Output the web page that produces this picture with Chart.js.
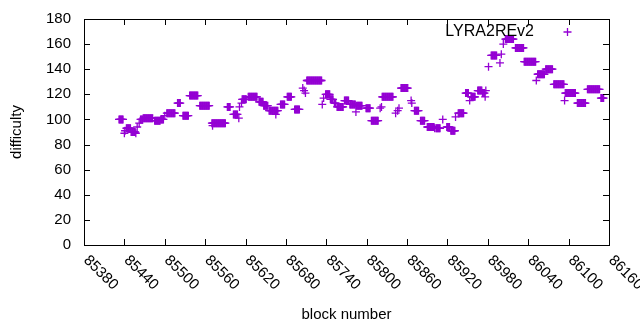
<!DOCTYPE html>
<html>
<head>
<meta charset="utf-8">
<script src="https://cdn.jsdelivr.net/npm/chart.js@4"></script>
<style>
  body { margin: 0; background: #fff; }
</style>
</head>
<body>
<canvas id="diffChart" width="640" height="330"></canvas>
<script>
// runs of consecutive blocks sharing the same difficulty
const runStart = [85432, 85440, 85441, 85443, 85450, 85457, 85459, 85462, 85464, 85468, 85485, 85494, 85500, 85503, 85519, 85527, 85537, 85552, 85570, 85571, 85593, 85602, 85610, 85611, 85614, 85615, 85624, 85640, 85647, 85655, 85665, 85672, 85682, 85693, 85705, 85707, 85709, 85711, 85734, 85736, 85739, 85746, 85752, 85756, 85767, 85775, 85784, 85785, 85799, 85807, 85820, 85822, 85823, 85843, 85846, 85848, 85851, 85866, 85867, 85871, 85880, 85890, 85901, 85903, 85913, 85919, 85925, 85932, 85936, 85947, 85953, 85955, 85965, 85972, 85976, 85977, 85981, 85985, 85998, 86000, 86003, 86006, 86021, 86034, 86052, 86054, 86066, 86078, 86094, 86095, 86113, 86128, 86148];
const runEnd   = [85438, 85440, 85441, 85449, 85456, 85457, 85459, 85462, 85467, 85482, 85493, 85498, 85500, 85515, 85523, 85535, 85549, 85566, 85590, 85571, 85597, 85608, 85610, 85611, 85614, 85621, 85637, 85646, 85653, 85668, 85665, 85678, 85688, 85700, 85705, 85707, 85709, 85733, 85734, 85736, 85745, 85750, 85754, 85765, 85773, 85783, 85784, 85793, 85805, 85817, 85820, 85822, 85839, 85843, 85846, 85848, 85861, 85866, 85867, 85877, 85886, 85900, 85901, 85909, 85913, 85923, 85931, 85932, 85944, 85951, 85953, 85961, 85971, 85975, 85976, 85977, 85981, 85993, 85998, 86000, 86003, 86018, 86033, 86051, 86052, 86064, 86076, 86093, 86094, 86110, 86125, 86146, 86152];
const runValue = [100, 89, 91, 93, 90, 89, 94, 97, 100, 101, 99, 100, 103, 105, 113, 103, 119, 111, 97, 95, 110, 104, 101, 110, 113, 116, 118, 114, 111, 107, 104, 112, 118, 108, 125, 123, 121, 131, 112, 117, 120, 116, 113, 110, 115, 112, 106, 111, 109, 99, 109, 110, 118, 105, 107, 109, 125, 115, 113, 107, 99, 94, 93, 93, 100, 94, 91, 102, 105, 121, 115, 118, 123, 121, 118, 123, 142, 151, 145, 152, 160, 164, 157, 146, 131, 136, 140, 128, 115, 121, 113, 124, 117];

const xTicks = [85380, 85440, 85500, 85560, 85620, 85680, 85740, 85800, 85860, 85920, 85980, 86040, 86100, 86160];
const yTicks = [0, 20, 40, 60, 80, 100, 120, 140, 160, 180];

const seriesName = "LYRA2REv2";
const purple = "#9400d3";

const points = [];
runStart.forEach((s, i) => {
  for (let b = s; b <= runEnd[i]; b++) {
    points.push({ x: b, y: runValue[i] });
  }
});

// gnuplot style frame, mirrored ticks, labels and key
const framePlugin = {
  id: "frame",
  afterDraw(chart) {
    const ctx = chart.ctx;
    const a = chart.chartArea;
    const xs = chart.scales.x;
    const ys = chart.scales.y;
    ctx.save();
    ctx.strokeStyle = "#000";
    ctx.lineWidth = 1;
    ctx.strokeRect(a.left + 0.5, a.top + 0.5, a.right - a.left, a.bottom - a.top);

    ctx.beginPath();
    yTicks.forEach((v) => {
      const y = Math.round(ys.getPixelForValue(v)) + 0.5;
      ctx.moveTo(a.left, y); ctx.lineTo(a.left + 6, y);
      ctx.moveTo(a.right, y); ctx.lineTo(a.right - 6, y);
    });
    xTicks.forEach((v) => {
      const x = Math.round(xs.getPixelForValue(v)) + 0.5;
      ctx.moveTo(x, a.bottom); ctx.lineTo(x, a.bottom - 6);
      ctx.moveTo(x, a.top); ctx.lineTo(x, a.top + 6);
    });
    ctx.stroke();

    ctx.fillStyle = "#000";
    ctx.font = "15px 'Liberation Sans', Arial, sans-serif";
    ctx.textAlign = "right";
    ctx.textBaseline = "middle";
    yTicks.forEach((v) => {
      ctx.fillText(String(v), a.left - 13, ys.getPixelForValue(v));
    });

    ctx.textAlign = "left";
    xTicks.forEach((v) => {
      ctx.save();
      ctx.translate(xs.getPixelForValue(v) + 2, a.bottom + 13);
      ctx.rotate(Math.PI / 4);
      ctx.fillText(String(v), 0, 0);
      ctx.restore();
    });

    ctx.textAlign = "center";
    ctx.fillText("block number", (a.left + a.right) / 2, 315);
    ctx.save();
    ctx.translate(17, (a.top + a.bottom) / 2);
    ctx.rotate(-Math.PI / 2);
    ctx.fillText("difficulty", 0, 0);
    ctx.restore();

    // key
    ctx.textAlign = "right";
    ctx.font = "16px 'Liberation Sans', Arial, sans-serif";
    ctx.fillText(seriesName, 534, 32);
    ctx.strokeStyle = purple;
    ctx.lineWidth = 1.3;
    ctx.beginPath();
    ctx.moveTo(563.5, 32); ctx.lineTo(571.5, 32);
    ctx.moveTo(567.5, 28); ctx.lineTo(567.5, 36);
    ctx.stroke();
    ctx.restore();
  },
};

const ctx = document.getElementById("diffChart").getContext("2d");
new Chart(ctx, {
  type: "scatter",
  data: {
    datasets: [
      {
        label: seriesName,
        data: points,
        pointStyle: "cross",
        pointRadius: 4,
        pointBorderWidth: 1.3,
        borderColor: purple,
        backgroundColor: purple,
      },
    ],
  },
  options: {
    responsive: false,
    animation: false,
    layout: { padding: { left: 84, top: 19, right: 31, bottom: 85 } },
    scales: {
      x: { type: "linear", min: 85380, max: 86160, display: false },
      y: { min: 0, max: 180, display: false },
    },
    plugins: {
      legend: { display: false },
      tooltip: { enabled: false },
    },
  },
  plugins: [framePlugin],
});
</script>
</body>
</html>
